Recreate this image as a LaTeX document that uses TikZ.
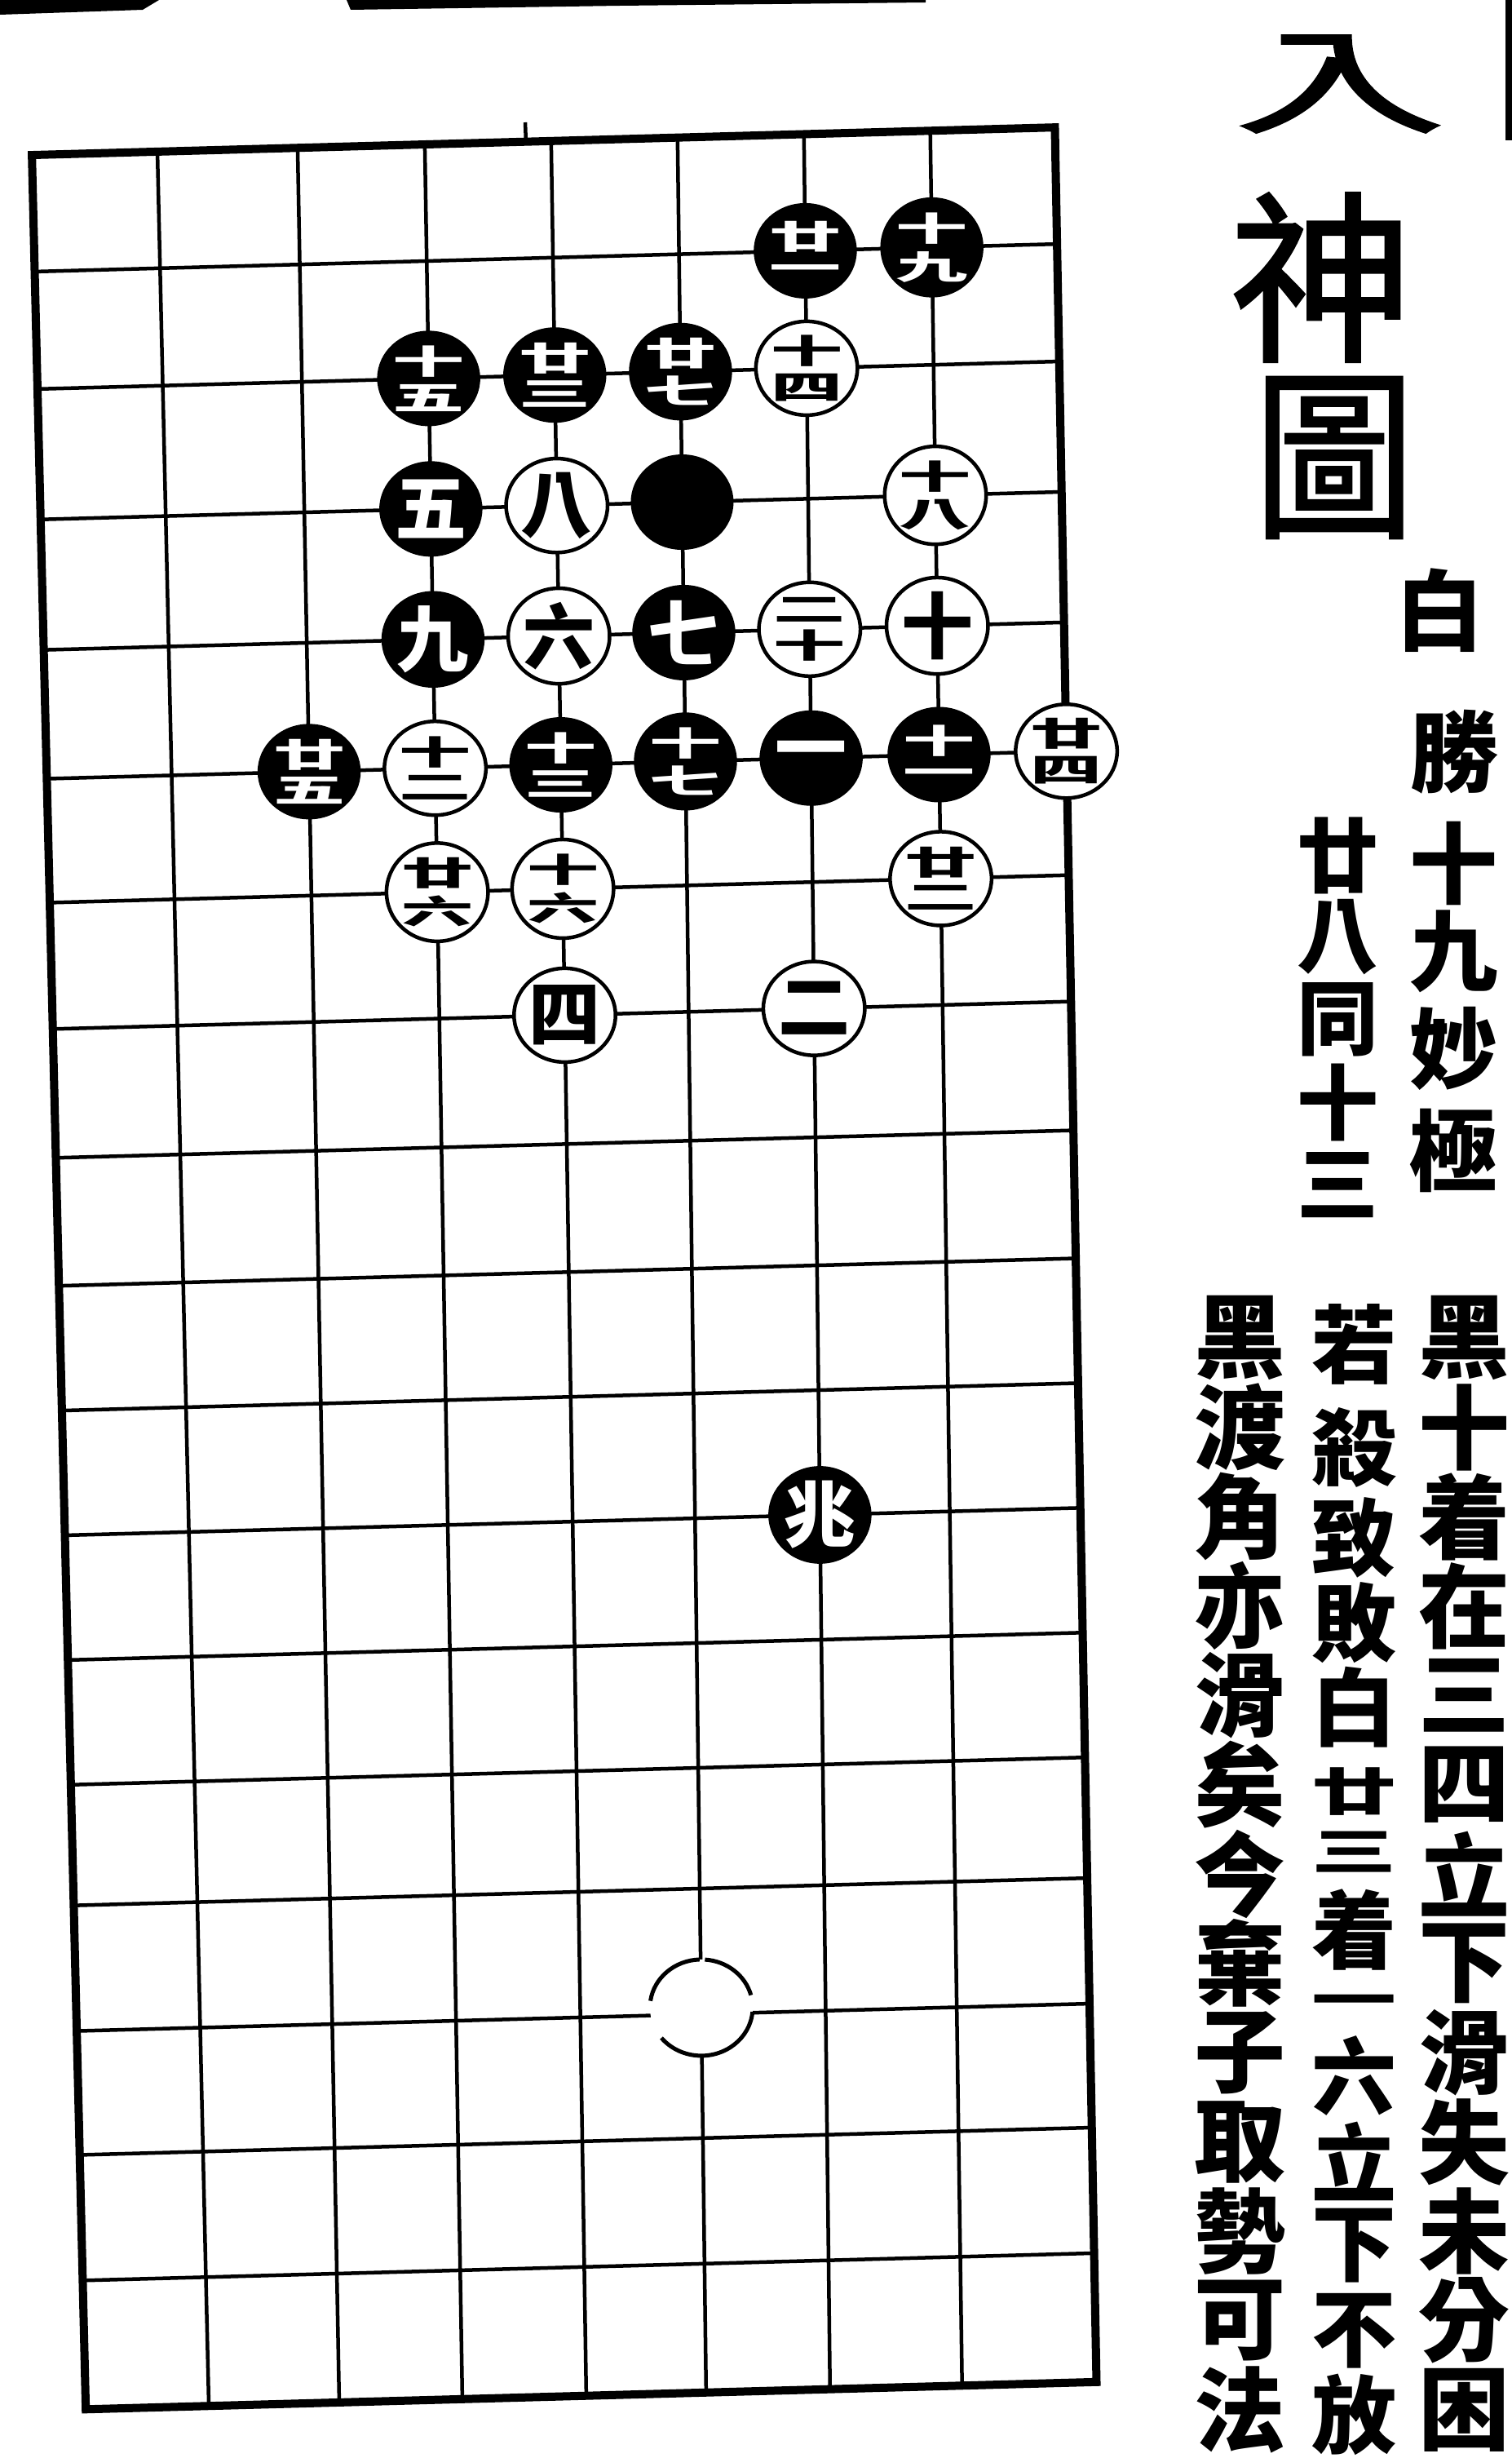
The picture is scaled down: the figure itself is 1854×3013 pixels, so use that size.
\documentclass[tikz,border=0pt]{standalone}
\usepackage{fontspec}
\usepackage{graphicx}
\usetikzlibrary{shapes.geometric}
\newfontfamily\cjk{Noto Sans CJK TC}
\newfontfamily\cjkt[FakeBold=1.5]{Noto Sans CJK TC}
\newcommand\ligt[3][9pt]{\vbox{\offinterlineskip\hbox{\scalebox{1}[0.46]{#2}}\kern#1\hbox{\scalebox{1}[0.46]{#3}}}}
\tikzset{
  gridln/.style={line width=4.5pt},
  framln/.style={line width=10pt, line join=miter},
  stone/.style={ellipse, minimum width=124pt, minimum height=115pt, inner sep=0pt, font=\cjk\bfseries\fontsize{88}{88}\selectfont},
  bst/.style={stone, fill=black, draw=black, line width=2pt, text=white},
  wst/.style={stone, fill=white, draw=black, line width=4.5pt, text=black},
  emptyst/.style={ellipse, minimum width=126pt, minimum height=118pt, inner sep=0pt, fill=white},
  rim/.style={line width=5pt},
  ttl/.style={font=\cjkt\fontsize{225}{225}\selectfont, inner sep=0pt},
  sub/.style={font=\cjk\bfseries\fontsize{108}{108}\selectfont, inner sep=0pt},
  subs/.style={font=\cjk\bfseries\fontsize{100}{100}\selectfont, inner sep=0pt},
  body/.style={font=\cjk\bfseries\fontsize{112}{112}\selectfont, inner sep=0pt},
  bodyb/.style={font=\cjk\bfseries\fontsize{104}{104}\selectfont, inner sep=0pt},
}
\begin{document}
\begin{tikzpicture}[x=1pt,y=-1pt]
\fill[white] (0,0) rectangle (1854,3013);
\useasboundingbox (0,0) rectangle (1854,3013);
\clip (0,0) rectangle (1854,3013);
% grid points p<col>-<row>
\foreach \i/\xt/\xb in {0/39/105,1/193/256,2/365/416,3/521/567,4/676/719,5/831/866,6/986/1018,7/1141/1180,8/1294/1345}{
  \foreach \j/\y in {0/183,1/326,2/470,3/630,4/790,5/948,6/1100,7/1255,8/1413,9/1570,10/1723,11/1876,12/2029,13/2182,14/2330,15/2484,16/2636,17/2790,18/2948}{
    \pgfmathsetmacro\xa{\xt+(\xb-\xt)/2760*(\y-185)}
    \pgfmathsetmacro\ya{\y-(\xa-300)*0.027}
    \pgfmathsetmacro\xc{\xt+(\xb-\xt)/2760*(\ya-185)}
    \coordinate (p\i-\j) at (\xc,\ya);
  }
}
\foreach \i in {1,...,7} \draw[gridln] (p\i-0) -- (p\i-18);
\foreach \j in {1,...,17} \draw[gridln] (p0-\j) -- (p8-\j);
\draw[framln] (p0-0) -- (p8-0) -- (p8-18) -- (p0-18) -- cycle;
\coordinate (stubA) at (644,150);
\coordinate (stubB) at (645,176);
\draw[gridln] (stubA) -- (stubB);
% black stones
\foreach \cc/\rr/\t in {
 6/1/{\ligt[15pt]{廿}{一}}, 7/1/{\ligt{十}{九}},
 3/2/{\ligt{十}{五}}, 4/2/{\ligt{廿}{三}}, 5/2/{\ligt{廿}{七}},
 3/3/五, 5/3/{},
 3/4/九, 5/4/七,
 2/5/{\ligt{廿}{五}}, 4/5/{\ligt{十}{三}}, 5/5/{\ligt{十}{七}}, 6/5/一, 7/5/{\ligt[15pt]{十}{一}},
 6/11/兆}
{ \node[bst] (s\cc-\rr) at (p\cc-\rr) {\t}; }
% white stones
\foreach \cc/\rr/\t in {
 6/2/{\ligt{十}{四}},
 4/3/八, 7/3/{\ligt{十}{八}},
 4/4/六, 6/4/{\ligt{二}{十}}, 7/4/十,
 3/5/{\ligt{十}{二}}, 8/5/{\ligt{廿}{四}},
 3/6/{\ligt{廿}{六}}, 4/6/{\ligt{十}{六}}, 7/6/{\ligt{廿}{二}},
 4/7/四, 6/7/二}
{ \node[wst] (s\cc-\rr) at (p\cc-\rr) {\t}; }
% the unnumbered white stone, its rim broken as printed
\node[emptyst] (s5-15) at ([yshift=8pt]p5-15) {};
\draw[rim] (s5-15.center) ++(-92:63 and 59) arc[start angle=-92, end angle=-172, x radius=63, y radius=59];
\draw[rim] (s5-15.center) ++(-15:63 and 59) arc[start angle=-15, end angle=-86, x radius=63, y radius=59];
\draw[rim] (s5-15.center) ++(5:63 and 59) arc[start angle=5, end angle=141, x radius=63, y radius=59];
% title
\node[ttl] (ti1) at (1643,103) {\scalebox{1.15}[0.62]{入}};
\node[ttl] (ti2) at (1620,340) {神};
\node[ttl] (ti3) at (1636,561) {\scalebox{0.88}[1]{圖}};
% subtitle
\node[sub] (su1) at (1765,748) {白};
\node[sub] (su2) at (1783,922) {勝};
\foreach \ch/\yy [count=\k] in {十/1058,九/1166,妙/1285,極/1410}
  \node[sub] (sa\k) at (1782,\yy) {\ch};
\foreach \ch/\yy [count=\k] in {廿/1049,八/1149,同/1250,十/1351,三/1453}
  \node[subs] (sb\k) at (1640,\yy) {\ch};
% commentary
\foreach \ch [count=\k] in {黑,十,着,在,三,四,立,下,滑,失,未,分,困}
  \node[body] (ca-\k) at (1795,{1640+(\k-1)*109.5}) {\ch};
\foreach \ch/\yy [count=\k] in {若/1648,殺/1774,致/1885,敗/1989,白/2093,{\scalebox{1}[0.6]{廿}}/2196,{\scalebox{1}[0.6]{三}}/2270,着/2365,{\scalebox{1}[0.6]{一}}/2460,六/2544,立/2649,下/2753,不/2857,放/2960}
  \node[bodyb] (cb-\k) at (1660,\yy) {\ch};
\foreach \ch [count=\k] in {黑,渡,角,亦,滑,矣,今,棄,子,取,勢,可,法}
  \node[body] (cc-\k) at (1520,{1640+(\k-1)*109.5}) {\ch};
% page edge marks
\fill (0,0) -- (195,0) -- (175,12) -- (0,18) -- cycle;
\fill (425,0) -- (1135,0) -- (1135,3) -- (760,7) -- (430,12) -- cycle;
\fill (1846,0) rectangle (1854,172);
\end{tikzpicture}
\end{document}
